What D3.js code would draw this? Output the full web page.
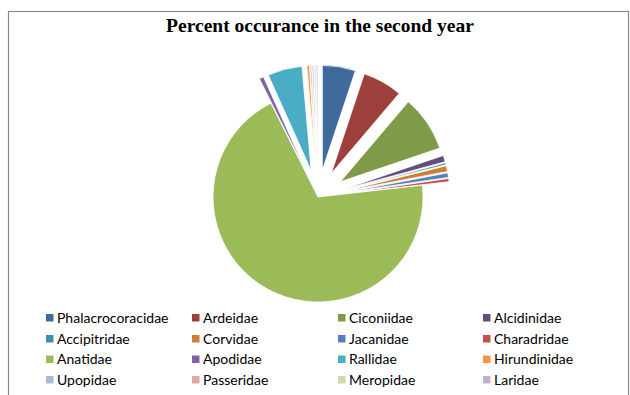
<!DOCTYPE html>
<html>
<head>
<meta charset="utf-8">
<script src="https://cdn.jsdelivr.net/npm/d3@7"></script>
<style>
  html, body { margin: 0; padding: 0; background: #fff; }
  svg { display: block; }
</style>
</head>
<body>
<svg id="chart" width="630" height="395"></svg>
<script>
// Bird families and their percent occurrence in the second year
const families = [
  "Phalacrocoracidae", "Ardeidae", "Ciconiidae", "Alcidinidae",
  "Accipitridae", "Corvidae", "Jacanidae", "Charadridae",
  "Anatidae", "Apodidae", "Rallidae", "Hirundinidae",
  "Upopidae", "Passeridae", "Meropidae", "Laridae"
];
const percents = [
  5.1, 6.1, 8.6, 1.0,
  0.3, 0.9, 0.7, 0.5,
  69.4, 0.7, 5.3, 0.4,
  0.25, 0.25, 0.25, 0.25
];
const palette = [
  "#3f6a9c", "#9d403d", "#7f9a48", "#624c80",
  "#3a8ea6", "#d07d34", "#4f81bd", "#c0504d",
  "#9bbb59", "#8064a2", "#4bacc6", "#f79646",
  "#a9b9da", "#dda9a8", "#cbdaae", "#bfb3d2"
];
const chartTitle = "Percent occurance in the second year";

const svg = d3.select("#chart");
const W = 630, H = 395;

// chart area frame
svg.append("rect")
  .attr("x", 8.5).attr("y", 11.5)
  .attr("width", 620).attr("height", H)
  .attr("fill", "#fff")
  .attr("stroke", "#8a8a8a")
  .attr("stroke-width", 1.2);

svg.append("text")
  .attr("x", 320).attr("y", 32)
  .attr("text-anchor", "middle")
  .attr("font-family", "'Liberation Serif', 'Times New Roman', serif")
  .attr("font-weight", "bold")
  .attr("font-size", 19.5)
  .attr("fill", "#000")
  .text(chartTitle);

// pie
const cx = 318, cy = 197, radius = 105, explode = 27;
const color = d3.scaleOrdinal().domain(families).range(palette);
const pie = d3.pie().sort(null).value(d => d.value);
const arc = d3.arc().innerRadius(0).outerRadius(radius);
const data = families.map((name, i) => ({ name, value: percents[i] }));

const g = svg.append("g").attr("transform", `translate(${cx},${cy})`);
g.selectAll("path")
  .data(pie(data))
  .join("path")
  .attr("transform", d => {
    if (d.data.name === "Anatidae") return null;
    const mid = (d.startAngle + d.endAngle) / 2;
    return `translate(${explode * Math.sin(mid)},${-explode * Math.cos(mid)})`;
  })
  .attr("d", arc)
  .attr("fill", d => color(d.data.name))
  .attr("stroke", "#fff")
  .attr("stroke-width", 0.8)
  .attr("stroke-linejoin", "round");

// legend: 4 columns x 4 rows
const colX = [46, 192, 338, 483];
const rowY = [317.5, 338.5, 359, 379.5];
const legend = svg.append("g");
families.forEach((name, i) => {
  const x = colX[i % 4], y = rowY[Math.floor(i / 4)];
  legend.append("rect")
    .attr("x", x).attr("y", y - 3.5)
    .attr("width", 7.5).attr("height", 7.5)
    .attr("fill", color(name));
  legend.append("text")
    .attr("x", x + 11).attr("y", y)
    .attr("dy", "0.37em")
    .attr("font-family", "Lato, 'Open Sans', sans-serif")
    .attr("font-size", 14)
    .attr("fill", "#000")
    .text(name);
});
</script>
</body>
</html>
